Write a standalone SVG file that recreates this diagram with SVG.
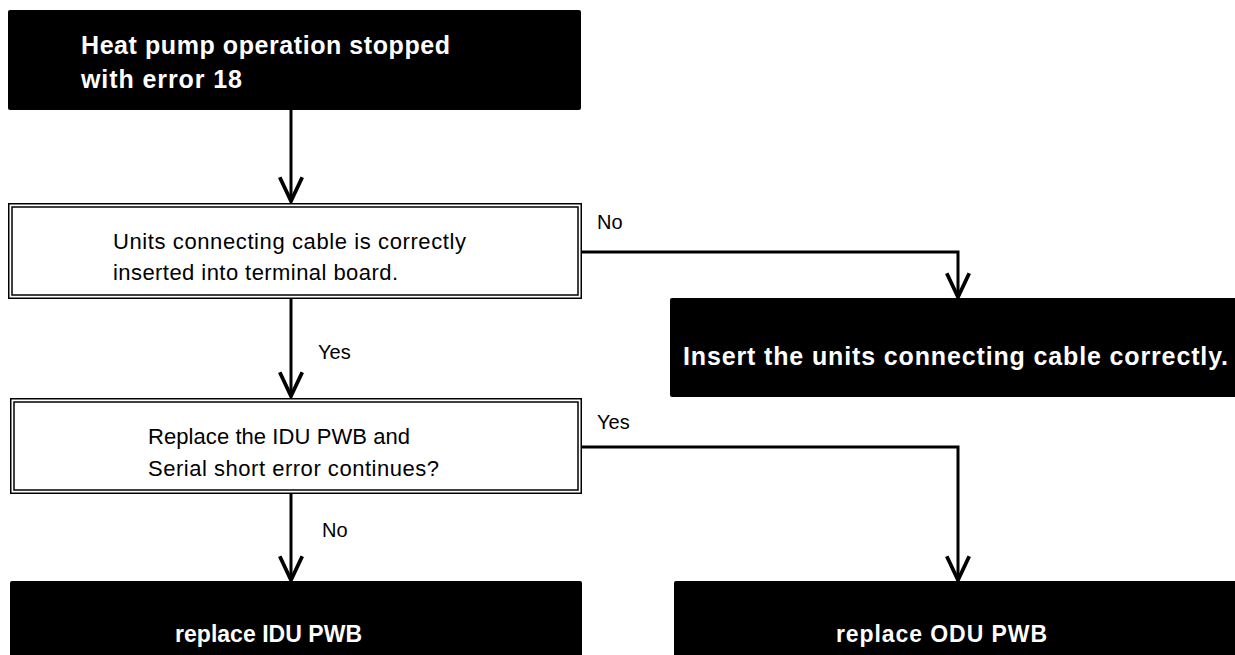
<svg xmlns="http://www.w3.org/2000/svg" width="1235" height="655" viewBox="0 0 1235 655">
<style>
.term{fill:#000;}
.tw{fill:#fff;font-family:"Liberation Sans",Arial,sans-serif;font-weight:bold;font-size:25px;}
.tb{font-size:23px;}
.dec{fill:#fff;stroke:#000;stroke-width:1.5;}
.dt{fill:#000;font-family:"Liberation Sans",Arial,sans-serif;font-size:22px;}
.lbl{fill:#000;font-family:"Liberation Sans",Arial,sans-serif;font-size:20px;}
.con{fill:none;stroke:#000;stroke-width:3;marker-end:url(#arr);}
</style>
<defs>
<marker id="arr" markerUnits="userSpaceOnUse" markerWidth="30" markerHeight="30" viewBox="-22 -12 24 24" refX="0" refY="0" orient="auto" overflow="visible">
<path d="M-19,-9 L0,0 L-19,9" fill="none" stroke="#000" stroke-width="3"/>
</marker>
</defs>
<rect width="1235" height="655" fill="#fff"/>
<g id="connectors">
<path class="con" d="M291,110 V201"/>
<path class="con" d="M291,299 V396"/>
<path class="con" d="M291,494 V580"/>
<path class="con" d="M582,252 H958 V297"/>
<path class="con" d="M582,447 H958 V580"/>
<text class="lbl" x="597" y="229">No</text>
<text class="lbl" x="318" y="359">Yes</text>
<text class="lbl" x="597" y="429">Yes</text>
<text class="lbl" x="322" y="537">No</text>
</g>
<g id="start">
<rect class="term" x="8" y="10" width="573" height="100" rx="2"/>
<text class="tw" x="81" y="54" textLength="369">Heat pump operation stopped</text>
<text class="tw" x="81" y="88" textLength="161">with error 18</text>
</g>
<g id="check-cable">
<rect class="dec" x="8.75" y="203.75" width="572.5" height="94.5"/>
<rect class="dec" x="12" y="207" width="566" height="88"/>
<text class="dt" x="113" y="249" textLength="353">Units connecting cable is correctly</text>
<text class="dt" x="113" y="280" textLength="285">inserted into terminal board.</text>
</g>
<g id="insert-cable">
<rect class="term" x="670" y="298" width="570" height="99" rx="2"/>
<text class="tw" x="683" y="365" textLength="545">Insert the units connecting cable correctly.</text>
</g>
<g id="replace-idu-check">
<rect class="dec" x="10.75" y="398.75" width="570.5" height="94.5"/>
<rect class="dec" x="14" y="402" width="564" height="88"/>
<text class="dt" x="148" y="444" textLength="262">Replace the IDU PWB and</text>
<text class="dt" x="148" y="476" textLength="291">Serial short error continues?</text>
</g>
<g id="replace-idu">
<rect class="term" x="10" y="581" width="572" height="80" rx="2"/>
<text class="tw tb" x="175" y="642" textLength="187">replace IDU PWB</text>
</g>
<g id="replace-odu">
<rect class="term" x="674" y="581" width="570" height="80" rx="2"/>
<text class="tw tb" x="836" y="642" textLength="211">replace ODU PWB</text>
</g>
</svg>
